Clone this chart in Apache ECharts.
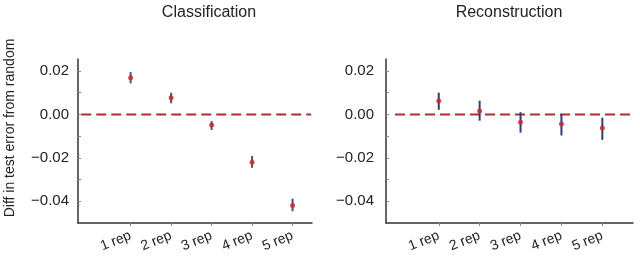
<!DOCTYPE html>
<html>
<head>
<meta charset="utf-8">
<script src="https://cdn.jsdelivr.net/npm/echarts@6/dist/echarts.min.js"></script>
<style>html,body{margin:0;padding:0;background:#fff}#c{width:640px;height:257px}</style>
</head>
<body>
<div id="c"></div>
<script>
const categories = ['1 rep', '2 rep', '3 rep', '4 rep', '5 rep'];
const classMean = [0.0169, 0.0077, -0.0049, -0.0220, -0.0419];
const classLow  = [0.0143, 0.0051, -0.0072, -0.0246, -0.0446];
const classHigh = [0.0195, 0.0100, -0.0031, -0.0192, -0.0388];
const reconMean = [0.0062, 0.0016, -0.0036, -0.0044, -0.0063];
const reconLow  = [0.0021, -0.0029, -0.0084, -0.0097, -0.0117];
const reconHigh = [0.0100, 0.0063, 0.0010, 0.0001, -0.0015];
const yTickValues = [-0.04, -0.03, -0.02, -0.01, 0, 0.01, 0.02];
const yLabelValues = [-0.04, -0.02, 0, 0.02];
const titles = ['Classification', 'Reconstruction'];
const yName = 'Diff in test error from random';

const FONT = "'Liberation Sans', Arial, Helvetica, sans-serif";
const xPos = categories.map((c, i) => i + 1);

function fmtY(v) {
  const s = Math.abs(v).toFixed(2);
  return (v < -1e-9 ? '\u2212' : '') + s;
}

function errSeries(idx, low, high, color) {
  return {
    type: 'custom',
    xAxisIndex: idx, yAxisIndex: idx,
    data: xPos.map((x, i) => [x, low[i], high[i]]),
    renderItem: function (params, api) {
      const a = api.coord([api.value(0), api.value(1)]);
      const b = api.coord([api.value(0), api.value(2)]);
      return { type: 'line', shape: { x1: a[0], y1: a[1], x2: b[0], y2: b[1] },
        style: { stroke: color, lineWidth: 2 } };
    },
    z: 3, silent: true
  };
}

function xAxis(idx, min, max) {
  return {
    type: 'value', gridIndex: idx, min: min, max: max,
    splitLine: { show: false },
    axisLine: { show: true, onZero: false, lineStyle: { color: '#333', width: 1.5 } },
    axisTick: { show: true, customValues: xPos, length: 3, lineStyle: { color: '#888' } },
    axisLabel: { customValues: xPos, rotate: 22, margin: 12, fontSize: 14, fontFamily: FONT, color: '#222',
      formatter: v => categories[Math.round(v) - 1] || '' }
  };
}
function yAxis(idx, margin) {
  return {
    type: 'value', gridIndex: idx, min: -0.05, max: 0.0255,
    splitLine: { show: false },
    axisLine: { show: true, onZero: false, lineStyle: { color: '#333', width: 1.5 } },
    axisTick: { show: true, inside: true, customValues: yTickValues, length: 3, lineStyle: { color: '#888' } },
    axisLabel: { customValues: yLabelValues, margin: margin, fontSize: 15, fontFamily: FONT, color: '#222',
      formatter: fmtY }
  };
}

const chart = echarts.init(document.getElementById('c'), null, { renderer: 'canvas' });
chart.setOption({
  animation: false,
  backgroundColor: '#fff',
  title: [
    { text: titles[0], left: 204, top: 0, textAlign: 'center',
      textStyle: { fontSize: 16, fontWeight: 'normal', fontFamily: FONT, color: '#222' } },
    { text: titles[1], left: 504, top: 0, textAlign: 'center',
      textStyle: { fontSize: 16, fontWeight: 'normal', fontFamily: FONT, color: '#222' } }
  ],
  graphic: [{
    type: 'text', x: 10, y: 128, rotation: Math.PI / 2,
    style: { text: yName, fontSize: 14, fontFamily: FONT, fill: '#222', align: 'center', verticalAlign: 'middle' }
  }],
  grid: [
    { left: 78, top: 59, width: 234, height: 164 },
    { left: 386, top: 59, width: 247, height: 164 }
  ],
  xAxis: [xAxis(0, -0.3, 5.48), xAxis(1, -0.29, 5.75)],
  yAxis: [yAxis(0, 9), yAxis(1, 12)],
  series: [
    { type: 'line', xAxisIndex: 0, yAxisIndex: 0, data: [[-0.22, 0], [5.46, 0]], symbol: 'none',
      lineStyle: { color: '#b22a30', width: 2, type: [10, 5] }, z: 1, silent: true },
    { type: 'line', xAxisIndex: 1, yAxisIndex: 1, data: [[-0.07, 0], [5.68, 0]], symbol: 'none',
      lineStyle: { color: '#b22a30', width: 2, type: [10, 5] }, z: 1, silent: true },
    errSeries(0, classLow, classHigh, '#4d5270'),
    errSeries(1, reconLow, reconHigh, '#2e3c78'),
    { type: 'scatter', xAxisIndex: 0, yAxisIndex: 0, data: xPos.map((x, i) => [x, classMean[i]]),
      symbolSize: 5, itemStyle: { color: '#c8252b' }, z: 4 },
    { type: 'scatter', xAxisIndex: 1, yAxisIndex: 1, data: xPos.map((x, i) => [x, reconMean[i]]),
      symbolSize: 5, itemStyle: { color: '#c8252b' }, z: 4 }
  ]
});
</script>
</body>
</html>
